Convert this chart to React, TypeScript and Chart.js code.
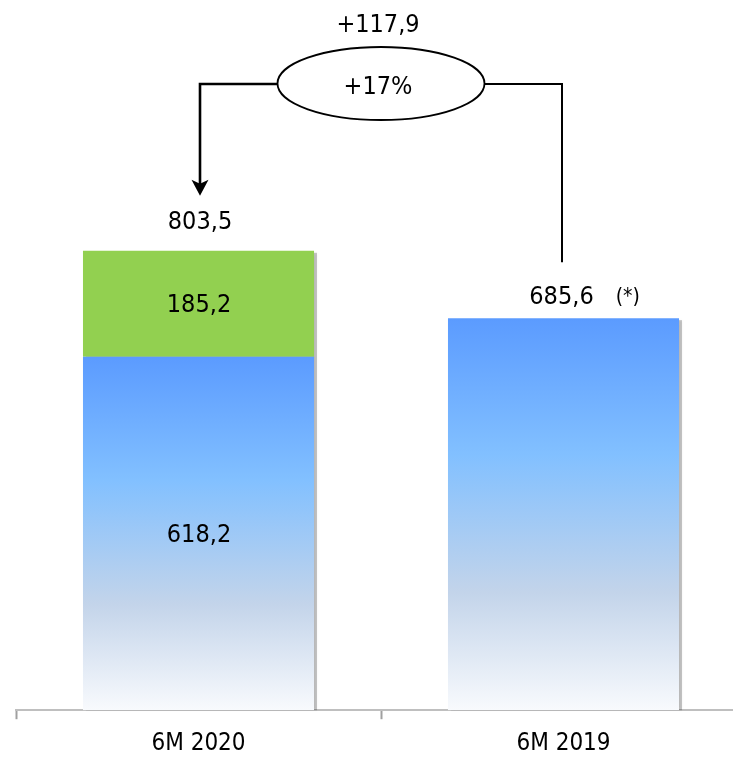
import React, { useEffect, useRef } from 'react';
import { Chart, registerables } from 'chart.js';

Chart.register(...registerables);

const categories: string[] = ['6M 2020', '6M 2019'];
const baseValues: (number | null)[] = [618.2, 685.6];
const extraValues: (number | null)[] = [185.2, null];
const totalValues: number[] = [803.5, 685.6];
const totalNotes: string[] = ['', '(*)'];
const growthAbsolute = 117.9;
const growthPercent = 17;

const FONT = "'DejaVu Sans Condensed', 'DejaVu Sans', sans-serif";
const fmt = (v: number, d = 1) => v.toFixed(d).replace('.', ',');

const blueGradient = (c: any) => {
  const chart = c.chart;
  const area = chart.chartArea;
  if (!area || c.raw == null) return '#6aa8ff';
  const y = chart.scales.y;
  const top = y.getPixelForValue(c.raw);
  const bottom = y.getPixelForValue(0);
  const g = chart.ctx.createLinearGradient(0, top, 0, bottom);
  g.addColorStop(0, '#5b9bff');
  g.addColorStop(0.35, '#82c0ff');
  g.addColorStop(0.7, '#c3d4ea');
  g.addColorStop(1, '#f8fafd');
  return g;
};

const shadowPlugin = {
  id: 'barShadow',
  beforeDatasetsDraw(chart: any) {
    const ctx = chart.ctx;
    const metas = chart.getSortedVisibleDatasetMetas();
    ctx.save();
    for (let i = 0; i < categories.length; i++) {
      let top = Infinity, bottom = -Infinity, left = 0, width = 0;
      metas.forEach((m: any) => {
        const el = m.data[i];
        if (!el) return;
        const p = el.getProps(['x', 'y', 'base', 'width'], true);
        if (p.y == null || isNaN(p.y) || p.y === p.base) return;
        top = Math.min(top, p.y);
        bottom = Math.max(bottom, p.base);
        left = p.x - p.width / 2;
        width = p.width;
      });
      if (top === Infinity) continue;
      ctx.fillStyle = 'rgba(0,0,0,0.22)';
      ctx.shadowColor = 'rgba(0,0,0,0.35)';
      ctx.shadowBlur = 3;
      ctx.fillRect(left + 3, top + 2, width, bottom - top - 2);
    }
    ctx.restore();
  },
};

const labelPlugin = {
  id: 'valueLabels',
  afterDatasetsDraw(chart: any) {
    const ctx = chart.ctx;
    const meta0 = chart.getDatasetMeta(0);
    ctx.save();
    ctx.fillStyle = '#000';
    ctx.textAlign = 'center';
    ctx.textBaseline = 'middle';
    categories.forEach((_, i) => {
      const segs = chart.data.datasets.filter((ds: any) => ds.data[i] != null).length;
      let top = Infinity;
      chart.data.datasets.forEach((ds: any, di: number) => {
        const v = ds.data[i];
        if (v == null) return;
        const el = chart.getDatasetMeta(di).data[i];
        const p = el.getProps(['x', 'y', 'base'], true);
        top = Math.min(top, p.y);
        if (segs > 1) {
          ctx.font = `25px ${FONT}`;
          ctx.textAlign = 'center';
          ctx.fillText(fmt(v), p.x + 0.5, (p.y + p.base) / 2 + 2);
        }
      });
      const x = meta0.data[i].x;
      const offs = segs > 1 ? 28 : 21;
      const cx = segs > 1 ? x + 1.5 : x - 2;
      const label = fmt(totalValues[i]);
      ctx.font = `25px ${FONT}`;
      ctx.textAlign = 'center';
      ctx.fillText(label, cx, top - offs);
      if (totalNotes[i]) {
        const w = ctx.measureText(label).width;
        ctx.font = `21px ${FONT}`;
        ctx.textAlign = 'left';
        ctx.fillText(totalNotes[i], cx + w / 2 + 22, top - offs);
      }
    });
    ctx.restore();
  },
};

const annotationPlugin = {
  id: 'growthAnnotation',
  afterDraw(chart: any) {
    const ctx = chart.ctx;
    const y = chart.scales.y;
    const meta0 = chart.getDatasetMeta(0);
    const xL = meta0.data[0].x + 1.5;
    const xR = meta0.data[1].x - 1.5;
    const topL = y.getPixelForValue(totalValues[0]);
    const topR = y.getPixelForValue(totalValues[1]);
    const lineY = 84;
    const cx = (xL + xR) / 2;
    const rx = 103.5;
    const ry = 36.5;
    const tipY = topL - 55;
    ctx.save();
    ctx.strokeStyle = '#000';
    ctx.fillStyle = '#000';
    ctx.lineWidth = 2.6;
    ctx.beginPath();
    ctx.moveTo(cx - rx, lineY);
    ctx.lineTo(xL, lineY);
    ctx.lineTo(xL, tipY - 10);
    ctx.stroke();
    ctx.beginPath();
    ctx.moveTo(xL, tipY);
    ctx.lineTo(xL - 8.5, tipY - 16);
    ctx.lineTo(xL, tipY - 12);
    ctx.lineTo(xL + 8.5, tipY - 16);
    ctx.closePath();
    ctx.fill();
    ctx.lineWidth = 2;
    ctx.beginPath();
    ctx.moveTo(cx + rx, lineY);
    ctx.lineTo(xR, lineY);
    ctx.lineTo(xR, topR - 56);
    ctx.stroke();
    ctx.beginPath();
    ctx.ellipse(cx, 83.5, rx, ry, 0, 0, Math.PI * 2);
    ctx.fillStyle = '#fff';
    ctx.fill();
    ctx.lineWidth = 1.8;
    ctx.stroke();
    ctx.fillStyle = '#000';
    ctx.textAlign = 'center';
    ctx.textBaseline = 'middle';
    ctx.font = `25px ${FONT}`;
    ctx.fillText(`${growthPercent >= 0 ? '+' : ''}${growthPercent}%`, cx - 3, 87);
    ctx.fillText(`${growthAbsolute >= 0 ? '+' : ''}${fmt(growthAbsolute)}`, cx - 3, 25);
    ctx.restore();
  },
};

export default function App() {
  const ref = useRef<HTMLCanvasElement | null>(null);
  useEffect(() => {
    if (!ref.current) return;
    const chart = new Chart(ref.current, {
      type: 'bar',
      data: {
        labels: categories,
        datasets: [
          {
            label: 'base',
            data: baseValues,
            backgroundColor: blueGradient,
            borderWidth: 0,
            barPercentage: 0.633,
            categoryPercentage: 1,
          },
          {
            label: 'extra',
            data: extraValues,
            backgroundColor: '#92d050',
            borderWidth: 0,
            barPercentage: 0.633,
            categoryPercentage: 1,
          },
        ],
      },
      options: {
        animation: false,
        responsive: true,
        maintainAspectRatio: false,
        layout: { padding: { left: 16, right: 14, top: 24, bottom: -11 } },
        plugins: { legend: { display: false }, tooltip: { enabled: false } },
        scales: {
          x: {
            stacked: true,
            grid: {
              display: true,
              drawOnChartArea: false,
              drawTicks: true,
              tickLength: 9,
              tickWidth: 2,
              tickColor: '#a0a0a0',
              color: '#a0a0a0',
              offset: true,
            },
            border: { display: true, color: '#bfbfbf', width: 2 },
            ticks: { font: { family: FONT, size: 24 }, color: '#000', padding: 10 },
          },
          y: { stacked: true, display: false, min: 0, max: 1200 },
        },
      },
      plugins: [shadowPlugin, labelPlugin, annotationPlugin],
    });
    return () => chart.destroy();
  }, []);
  return (
    <div style={{ position: 'absolute', left: 0, top: 0, width: 733, height: 757, overflow: 'hidden', background: '#fff' }}>
      <div style={{ position: 'relative', width: 760, height: 757 }}>
        <canvas ref={ref} />
      </div>
    </div>
  );
}
